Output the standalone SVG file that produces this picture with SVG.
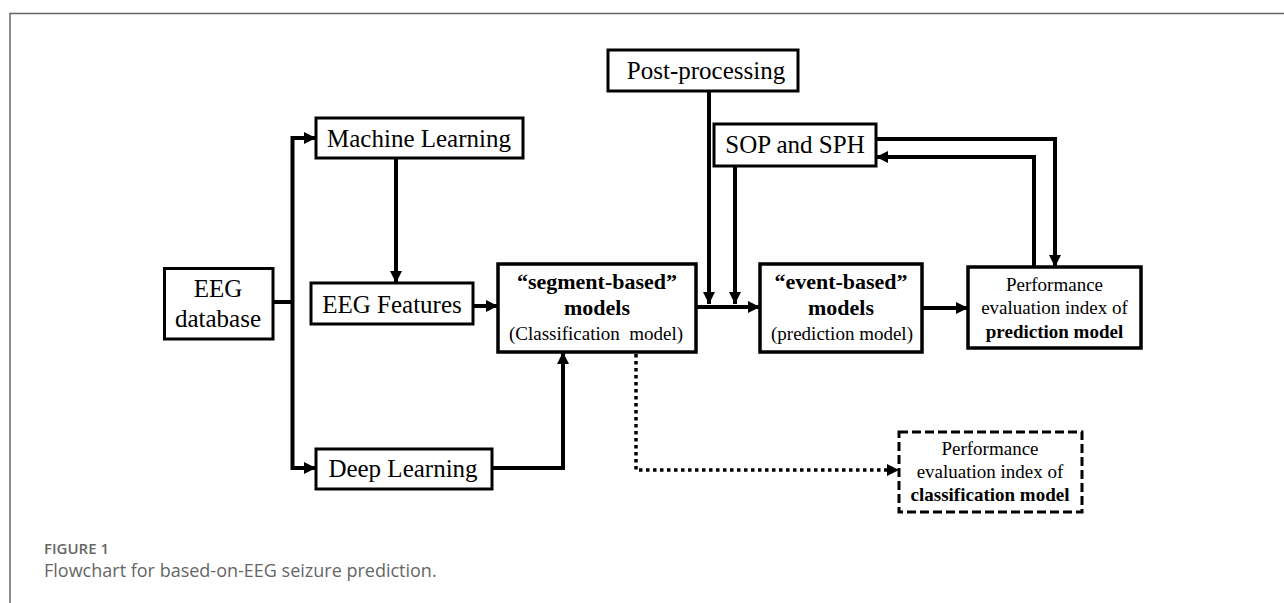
<svg xmlns="http://www.w3.org/2000/svg" width="1284" height="603" viewBox="0 0 1284 603">
<defs>
<style>
.box{fill:#fff;stroke:#000;stroke-width:3}
.thick{stroke-width:3.5}
.dash{fill:#fff;stroke:#000;stroke-width:3;stroke-dasharray:9 4}
.t{font-family:"Liberation Serif","Times New Roman",serif;fill:#000;text-anchor:middle}
.b{font-weight:bold}
.c{fill:none;stroke:#000;stroke-width:4;stroke-linejoin:miter}
.dot{fill:none;stroke:#000;stroke-width:3.5;stroke-dasharray:3.5 3.5}
.cap{font-family:"Open Sans","Noto Sans",sans-serif;fill:#666}
</style>
<marker id="ah" viewBox="0 0 12 12" refX="12" refY="6" markerWidth="12" markerHeight="12" markerUnits="userSpaceOnUse" orient="auto">
<path d="M0,0 L12,6 L0,12 z" fill="#000"/>
</marker>
</defs>
<rect width="1284" height="603" fill="#fff"/>
<path d="M10,603 V13.5 H1284" fill="none" stroke="#666" stroke-width="1.5"/>

<g id="connectors">
<path class="c" d="M273,302 H292.5"/>
<path class="c" d="M292.5,302 V138 H316" marker-end="url(#ah)"/>
<path class="c" d="M292.5,302 V468 H316" marker-end="url(#ah)"/>
<path class="c" d="M396,158 V283" marker-end="url(#ah)"/>
<path class="c" d="M473,306 H498" marker-end="url(#ah)"/>
<path class="c" d="M492,468 H563 V352" marker-end="url(#ah)"/>
<path class="c" d="M696,307 H760" marker-end="url(#ah)"/>
<path class="c" d="M709,91 V304" marker-end="url(#ah)"/>
<path class="c" d="M735,166 V304" marker-end="url(#ah)"/>
<path class="c" d="M876,139 H1055 V267" marker-end="url(#ah)"/>
<path class="c" d="M1034,267 V157 H876" marker-end="url(#ah)"/>
<path class="c" d="M922,308 H968" marker-end="url(#ah)"/>
<path class="dot" d="M636,354 V470 H899" marker-end="url(#ah)"/>
</g>

<g id="eeg-database">
<rect class="box" x="164.5" y="268.5" width="108.5" height="70.5"/>
<text class="t" x="218" y="297" font-size="25">EEG</text>
<text class="t" x="218" y="327" font-size="25">database</text>
</g>

<g id="machine-learning">
<rect class="box" x="316" y="118" width="207" height="40"/>
<text class="t" x="419" y="147" font-size="25">Machine Learning</text>
</g>

<g id="eeg-features">
<rect class="box" x="311" y="283" width="162" height="41"/>
<text class="t" x="392" y="313" font-size="25">EEG Features</text>
</g>

<g id="deep-learning">
<rect class="box" x="316" y="449" width="176" height="40"/>
<text class="t" x="403" y="477" font-size="25">Deep Learning</text>
</g>

<g id="segment-based">
<rect class="box thick" x="498" y="264" width="198" height="88"/>
<text class="t b" x="597" y="289" font-size="22">“segment-based”</text>
<text class="t b" x="597" y="315" font-size="22">models</text>
<text class="t" x="596" y="340" font-size="19" xml:space="preserve">(Classification  model)</text>
</g>

<g id="post-processing">
<rect class="box" x="608" y="50" width="190" height="41"/>
<text class="t" x="706" y="79" font-size="25">Post-processing</text>
</g>

<g id="sop-sph">
<rect class="box" x="714" y="124" width="162" height="42"/>
<text class="t" x="795" y="153" font-size="25">SOP and SPH</text>
</g>

<g id="event-based">
<rect class="box thick" x="760" y="264" width="162" height="88"/>
<text class="t b" x="841" y="289" font-size="22">“event-based”</text>
<text class="t b" x="841" y="315" font-size="22">models</text>
<text class="t" x="842" y="340" font-size="19">(prediction model)</text>
</g>

<g id="perf-prediction">
<rect class="box thick" x="968" y="267" width="173" height="81"/>
<text class="t" x="1054.5" y="291" font-size="19">Performance</text>
<text class="t" x="1054.5" y="314" font-size="19">evaluation index of</text>
<text class="t b" x="1054.5" y="338" font-size="19">prediction model</text>
</g>

<g id="perf-classification">
<rect class="dash" x="899" y="432" width="183" height="80"/>
<text class="t" x="990" y="455" font-size="19">Performance</text>
<text class="t" x="990" y="478" font-size="19">evaluation index of</text>
<text class="t b" x="990" y="501" font-size="19">classification model</text>
</g>

<g id="caption">
<text class="cap" x="44" y="554" font-size="15" font-weight="600">FIGURE 1</text>
<text class="cap" x="44" y="577" font-size="18">Flowchart for based-on-EEG seizure prediction.</text>
</g>
</svg>
